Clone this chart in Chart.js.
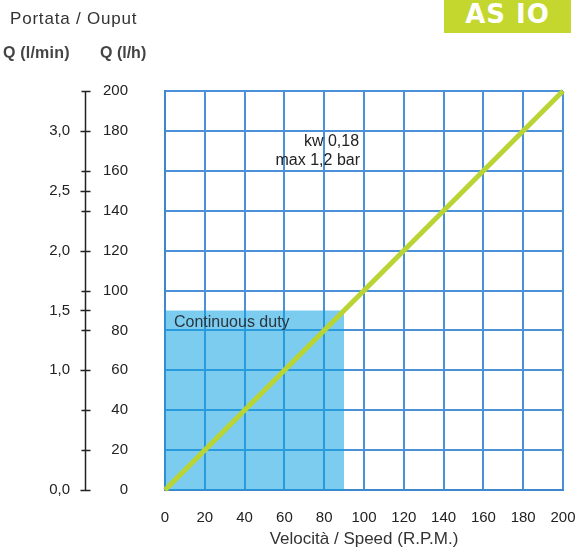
<!DOCTYPE html>
<html>
<head>
<meta charset="utf-8">
<script src="https://cdn.jsdelivr.net/npm/chart.js@4.4.1/dist/chart.umd.min.js"></script>
<style>
  html, body { margin: 0; padding: 0; background: #fff; }
  #wrap { position: relative; width: 578px; height: 553px; overflow: hidden; font-family: "Liberation Sans", Arial, sans-serif; }
  #c { position: absolute; left: 0; top: 0; }
  .lbl { position: absolute; white-space: nowrap; line-height: 1; }
  #badge { position: absolute; left: 444px; top: 0; width: 127px; height: 33px; background: #c3d72f; color: #fff;
           font: bold 26px "DejaVu Sans", "Liberation Sans", sans-serif; line-height: 28px; text-align: center; letter-spacing: 1px; }
</style>
</head>
<body>
<div id="wrap">
  <canvas id="c" width="578" height="553"></canvas>
  <div class="lbl" style="left:10px; top:10px; font-size:17px; letter-spacing:0.8px; color:#333;">Portata / Ouput</div>
  <div class="lbl" style="left:3px; top:45px; font-size:16px; font-weight:bold; color:#444; letter-spacing:0.2px;">Q (l/min)</div>
  <div class="lbl" style="left:100px; top:45px; font-size:16px; font-weight:bold; color:#444;">Q (l/h)</div>
  <div id="badge">AS IO</div>
</div>
<script>
// ---- data ----
const speedTicks = [0, 20, 40, 60, 80, 100, 120, 140, 160, 180, 200];   // R.P.M.
const flowLhTicks = [0, 20, 40, 60, 80, 100, 120, 140, 160, 180, 200];  // l/h
const flowLminTicks = [0, 1.0, 1.5, 2.0, 2.5, 3.0];                     // l/min
const lineSpeed = [0, 200];
const lineFlow = [0, 200];
const dutySpeed = [0, 90];
const dutyFlow = [90, 90];
const noteLines = ["kw 0,18", "max 1,2 bar"];
const dutyLabel = "Continuous duty";

const FONT = '"Liberation Sans", Arial, sans-serif';
const GRID = '#4b91d8';

const toPts = (xs, ys) => xs.map((x, i) => ({ x: x, y: ys[i] }));
const fixedTicks = arr => (scale) => { scale.ticks = arr.map(v => ({ value: v })); };
const noPad = s => { s.paddingLeft = 0; s.paddingRight = 0; s.paddingTop = 0; s.paddingBottom = 0; };

const overlay = {
  id: 'overlay',
  afterDraw(chart) {
    const ctx = chart.ctx;
    const xs = chart.scales.x, ys = chart.scales.y, ym = chart.scales.yMin;
    // external flow axis line with ticks
    const ax = Math.round(ym.right) + 0.5;
    ctx.save();
    ctx.strokeStyle = '#222';
    ctx.lineWidth = 1.5;
    ctx.beginPath();
    ctx.moveTo(ax, ys.getPixelForValue(0));
    ctx.lineTo(ax, ys.getPixelForValue(200));
    flowLhTicks.forEach(v => { const p = Math.round(ys.getPixelForValue(v)) + 0.5; ctx.moveTo(ax - 4, p); ctx.lineTo(ax + 5, p); });
    flowLminTicks.forEach(v => { const p = Math.round(ym.getPixelForValue(v)) + 0.5; ctx.moveTo(ax - 5, p); ctx.lineTo(ax + 5, p); });
    ctx.stroke();
    // annotations
    ctx.fillStyle = '#222';
    ctx.font = '16px ' + FONT;
    ctx.textAlign = 'right';
    ctx.textBaseline = 'middle';
    ctx.fillText(noteLines[0], xs.getPixelForValue(97.5), ys.getPixelForValue(174.5));
    ctx.fillText(noteLines[1], xs.getPixelForValue(98), ys.getPixelForValue(165));
    ctx.textAlign = 'left';
    ctx.fillStyle = '#2a3540';
    ctx.fillText(dutyLabel, xs.getPixelForValue(4.5), ys.getPixelForValue(84));
    ctx.restore();
  }
};

new Chart(document.getElementById('c'), {
  type: 'scatter',
  data: {
    datasets: [
      { data: toPts(lineSpeed, lineFlow), showLine: true, borderColor: '#b9d433', borderWidth: 5,
        pointRadius: 0, fill: false, order: 0, clip: false },
      { data: toPts(dutySpeed, dutyFlow), showLine: true, borderWidth: 0, borderColor: 'rgba(0,0,0,0)',
        backgroundColor: 'rgba(15,163,224,0.55)', fill: 'origin', pointRadius: 0, order: 1 }
    ]
  },
  options: {
    responsive: false,
    animation: false,
    events: [],
    layout: { padding: { left: 0, right: 15, top: 91, bottom: 0 } },
    plugins: { legend: { display: false }, tooltip: { enabled: false }, title: { display: false } },
    scales: {
      x: {
        type: 'linear', position: 'bottom', min: 0, max: 200,
        afterBuildTicks: fixedTicks(speedTicks),
        afterFit: s => { s.height = 63; noPad(s); },
        grid: { color: GRID, lineWidth: 2, drawTicks: false },
        border: { color: '#3d87cf', width: 2 },
        ticks: { color: '#222', font: { family: FONT, size: 15 }, padding: 19, maxRotation: 0, autoSkip: false },
        title: { display: true, text: 'Velocità / Speed (R.P.M.)', color: '#333', font: { family: FONT, size: 17 }, padding: { top: 4, bottom: 3 } }
      },
      y: {
        type: 'linear', position: 'left', min: 0, max: 200, weight: 0,
        afterBuildTicks: fixedTicks(flowLhTicks),
        afterFit: s => { s.width = 80; noPad(s); },
        grid: { color: GRID, lineWidth: 2, drawTicks: false },
        border: { color: '#3d87cf', width: 2 },
        ticks: { color: '#222', font: { family: FONT, size: 15 }, padding: 37, autoSkip: false }
      },
      yMin: {
        type: 'linear', position: 'left', min: 0, max: 200 / 60, weight: 1,
        afterBuildTicks: fixedTicks(flowLminTicks),
        afterFit: s => { s.width = 85; noPad(s); },
        grid: { display: false, drawTicks: false },
        border: { display: false },
        ticks: { color: '#222', font: { family: FONT, size: 15 }, padding: 15, autoSkip: false,
                 callback: v => v.toFixed(1).replace('.', ',') }
      }
    }
  },
  plugins: [overlay]
});
</script>
</body>
</html>
